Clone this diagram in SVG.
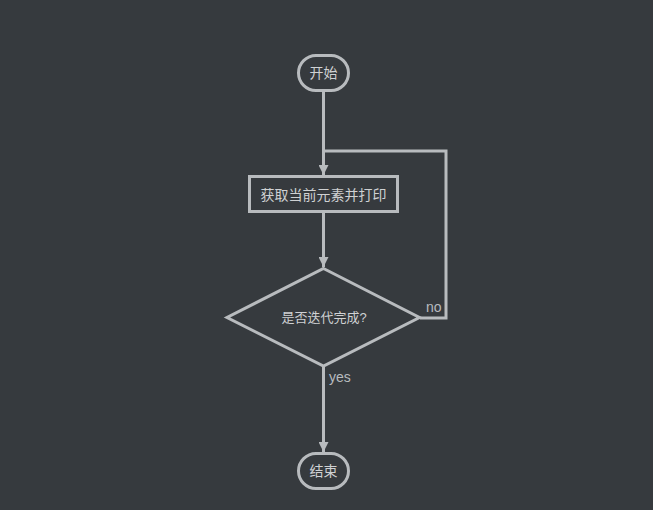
<svg xmlns="http://www.w3.org/2000/svg" width="653" height="510" viewBox="0 0 653 510">
<style>
.s{fill:none;stroke:#b8bbbe;stroke-width:3}
.t{fill:#cfd1d3;font-family:"Liberation Sans","Noto Sans CJK SC",sans-serif;font-size:14px;text-anchor:middle;dominant-baseline:central}
.d{font-size:13px}
.l{fill:#b8bbbe;font-family:"Liberation Sans",sans-serif;font-size:14px}
</style>
<defs>
<marker id="a" viewBox="0 0 10 10" refX="10" refY="5" markerWidth="10" markerHeight="10" markerUnits="userSpaceOnUse" orient="auto">
<path d="M0,0L10,5L0,10z" fill="#b8bbbe"/>
</marker>
</defs>
<rect width="653" height="510" fill="#363a3e"/>
<g id="connectors">
<path class="s" d="M323.5,90V175" marker-end="url(#a)"/>
<path class="s" d="M323.5,212V267" marker-end="url(#a)"/>
<path class="s" d="M420,318H446V151H323.5"/>
<path class="s" d="M323.5,366V452" marker-end="url(#a)"/>
<text class="l" x="426" y="312">no</text>
<text class="l" x="329" y="382">yes</text>
</g>
<g id="start">
<rect class="s" x="298.5" y="55.5" width="50" height="35" rx="17.5"/>
<text class="t" x="323.5" y="73">开始</text>
</g>
<g id="process">
<rect class="s" x="249.5" y="176.5" width="148" height="35"/>
<text class="t" x="323.5" y="194.5">获取当前元素并打印</text>
</g>
<g id="decision">
<path class="s" d="M323.5,268.5L419.5,317.5L323.5,366L227,317.5Z"/>
<text class="t d" x="324" y="317.5">是否迭代完成?</text>
</g>
<g id="end">
<rect class="s" x="298.5" y="453.5" width="50" height="35" rx="17.5"/>
<text class="t" x="323.5" y="471">结束</text>
</g>
</svg>
